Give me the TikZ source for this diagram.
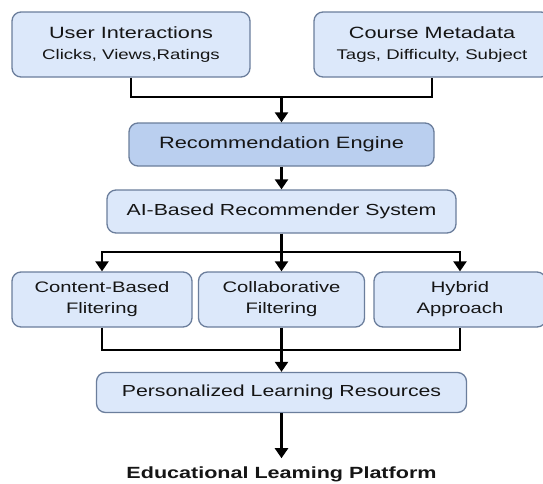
\documentclass[tikz,border=0pt]{standalone}
\usepackage{fontspec}
\setmainfont{Liberation Sans}[FakeStretch=1.33]
\usetikzlibrary{arrows.meta}
\definecolor{boxfill}{HTML}{DCE8FA}
\definecolor{enginefill}{HTML}{BACFEF}
\definecolor{boxline}{HTML}{6B7E9C}
\definecolor{textcol}{HTML}{151515}

\begin{document}
\begin{tikzpicture}[x=1pt,y=-1pt,
		box/.style={draw=boxline,line width=1.3pt,fill=boxfill,rounded corners=9pt,text=textcol,align=center,font=\fontsize{16}{21}\selectfont},
		filterbox/.style={box,minimum height=55pt,font=\fontsize{15.2}{21}\selectfont},
		conn/.style={line width=2.2pt,black},
		arr/.style={conn,-{Triangle[width=13pt,length=10pt]}}]
		\clip (0,0) rectangle (543,483);
		\fill[white] (0,0) rectangle (543,483);
		\node[box,minimum width=238pt,minimum height=65pt] (user) at (131,44.5) {\fontsize{16.3}{22}\selectfont User Interactions\\{\fontsize{14}{17}\selectfont Clicks, Views,Ratings}};
		\node[box,minimum width=236pt,minimum height=65pt] (meta) at (432,44.5) {\fontsize{16.3}{22}\selectfont Course Metadata\\{\fontsize{14}{17}\selectfont Tags, Difficulty, Subject}};
		\node[box,fill=enginefill,minimum width=305pt,minimum height=43pt,font=\fontsize{16.4}{21}\selectfont] (engine) at (281.5,144.5) {Recommendation Engine};
		\node[box,minimum width=349pt,minimum height=43pt] (ai) at (281.5,211.5) {AI-Based Recommender System};
		\node[filterbox,minimum width=180pt] (content) at (102,299.5) {Content-Based\\Flitering};
		\node[filterbox,minimum width=166pt] (collab) at (281.5,299.5) {Collaborative\\Filtering};
		\node[filterbox,minimum width=172pt] (hybrid) at (460,299.5) {Hybrid\\Approach};
		\node[box,minimum width=370pt,minimum height=40pt] (person) at (281.5,392.5) {Personalized Learning Resources};
		\node[text=textcol,inner ysep=8pt,font=\bfseries\fontsize{16.2}{19}\selectfont] (platform) at (281.5,474) {Educational Leaming Platform};
		\coordinate (join) at (281.5,97);
		\coordinate (split) at (281.5,252);
		\coordinate (merge) at (281.5,350);
		\draw[conn] (user.south) |- (join) -| (meta.south);
		\draw[arr] (join) -- (engine.north);
		\draw[arr] (engine.south) -- (ai.north);
		\draw[conn] (ai.south) -- (split);
		\draw[arr] (split) -| (content.north);
		\draw[arr] (split) -- (collab.north);
		\draw[arr] (split) -| (hybrid.north);
		\draw[conn] (content.south) |- (merge) -| (hybrid.south);
		\draw[arr] (collab.south) -- (person.north);
		\draw[arr] (person.south) -- (platform.north);
	\end{tikzpicture}
\end{document}
